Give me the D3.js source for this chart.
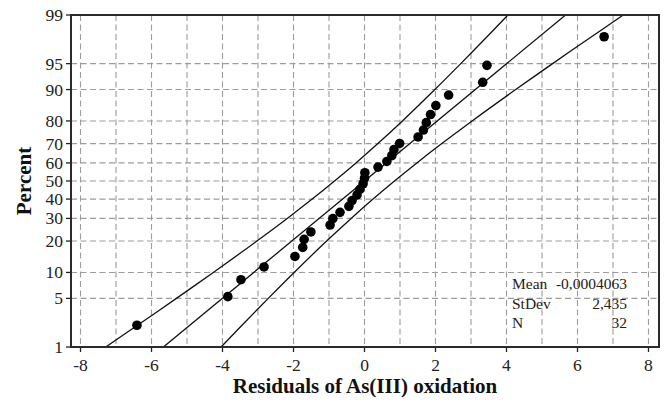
<!DOCTYPE html>
<html><head><meta charset="utf-8">
<script src="https://cdn.jsdelivr.net/npm/d3@7"></script>
<style>body{margin:0;background:#fff}svg{display:block}</style>
</head><body>
<svg id="chart" width="664" height="403"></svg>
<script>
// ---- data ----
const residuals = [-6.41,-3.85,-3.48,-2.83,-1.96,-1.74,-1.70,-1.51,-0.97,-0.89,-0.69,-0.44,-0.35,-0.21,-0.13,-0.04,
  0.00,0.01,0.38,0.63,0.77,0.83,0.99,1.51,1.66,1.74,1.86,2.01,2.37,3.33,3.45,6.75];
const percents = [2.16,5.25,8.33,11.42,14.51,17.59,20.68,23.77,26.85,29.94,33.02,36.11,39.20,42.28,45.37,48.46,
  51.54,54.63,57.72,60.80,63.89,66.98,70.06,73.15,76.23,79.32,82.41,85.49,88.58,91.67,94.75,97.84];
const fitPercent = [1, 99];
const fitX = [-5.665, 5.664];
const bandPercent = [1,2,5,10,20,30,40,50,60,70,80,90,95,98,99];
const bandLower = [-7.289,-6.488,-5.299,-4.259,-3.031,-2.177,-1.474,-0.844,-0.240,0.377,1.068,1.982,2.711,3.513,4.040];
const bandUpper = [-4.040,-3.513,-2.711,-1.982,-1.068,-0.377,0.240,0.844,1.474,2.177,3.031,4.259,5.299,6.488,7.289];
const yTickLabels = [1,5,10,20,30,40,50,60,70,80,90,95,99];
const yGridPercents = [5,10,20,30,40,50,60,70,80,90,95];
const xTickValues = [-8,-6,-4,-2,0,2,4,6,8];
const xGridValues = [-8,-7,-6,-5,-4,-3,-2,-1,0,1,2,3,4,5,6,7,8];
const statNames = ["Mean","StDev","N"];
const statValues = ["-0,0004063","2,435","32"];
const xTitle = "Residuals of As(III) oxidation";
const yTitle = "Percent";

// inverse standard normal CDF (Acklam)
function probit(p){
  const a=[-3.969683028665376e+01,2.209460984245205e+02,-2.759285104469687e+02,1.383577518672690e+02,-3.066479806614716e+01,2.506628277459239e+00];
  const b=[-5.447609879822406e+01,1.615858368580409e+02,-1.556989798598866e+02,6.680131188771972e+01,-1.328068155288572e+01];
  const c=[-7.784894002430293e-03,-3.223964580411365e-01,-2.400758277161838e+00,-2.549732539343734e+00,4.374664141464968e+00,2.938163982698783e+00];
  const d=[7.784695709041462e-03,3.224671290700398e-01,2.445134137142996e+00,3.754408661907416e+00];
  const pl=0.02425;let q,r;
  if(p<pl){q=Math.sqrt(-2*Math.log(p));return (((((c[0]*q+c[1])*q+c[2])*q+c[3])*q+c[4])*q+c[5])/((((d[0]*q+d[1])*q+d[2])*q+d[3])*q+1);}
  if(p>1-pl){q=Math.sqrt(-2*Math.log(1-p));return -(((((c[0]*q+c[1])*q+c[2])*q+c[3])*q+c[4])*q+c[5])/((((d[0]*q+d[1])*q+d[2])*q+d[3])*q+1);}
  q=p-0.5;r=q*q;
  return (((((a[0]*r+a[1])*r+a[2])*r+a[3])*r+a[4])*r+a[5])*q/(((((b[0]*r+b[1])*r+b[2])*r+b[3])*r+b[4])*r+1);
}

// ---- layout ----
const L=71,R=659,T=15,B=347;
const svg=d3.select("#chart");
const x=d3.scaleLinear().domain([-8.268,8.296]).range([L,R]);
const zy=d3.scaleLinear().domain([probit(0.01),probit(0.99)]).range([B,T]);
const y=pc=>zy(probit(pc/100));
const serif="Liberation Serif, Times New Roman, Times, serif";

// grid
const grid=svg.append("g").attr("stroke","#9c9c9c").attr("stroke-width",1.1).attr("stroke-dasharray","6,3.5");
grid.selectAll("line.v").data(xGridValues).join("line").attr("class","v")
  .attr("x1",d=>x(d)).attr("x2",d=>x(d)).attr("y1",T).attr("y2",B);
grid.selectAll("line.h").data(yGridPercents).join("line").attr("class","h")
  .attr("x1",L).attr("x2",R).attr("y1",d=>y(d)).attr("y2",d=>y(d));

// ticks + labels
const axY=svg.append("g");
axY.selectAll("line").data(yTickLabels).join("line")
  .attr("x1",L-5).attr("x2",L).attr("y1",d=>y(d)).attr("y2",d=>y(d)).attr("stroke","#222").attr("stroke-width",1.3);
axY.selectAll("text").data(yTickLabels).join("text")
  .attr("x",L-8).attr("y",d=>y(d)+6).attr("text-anchor","end")
  .style("font-family",serif).attr("font-size",17.5).attr("fill","#222").text(d=>d);
const axX=svg.append("g");
axX.selectAll("line").data(xTickValues).join("line")
  .attr("x1",d=>x(d)).attr("x2",d=>x(d)).attr("y1",B).attr("y2",B+5).attr("stroke","#222").attr("stroke-width",1.3);
axX.selectAll("text").data(xTickValues).join("text")
  .attr("x",d=>x(d)).attr("y",B+24).attr("text-anchor","middle")
  .style("font-family",serif).attr("font-size",17.5).attr("fill","#222").text(d=>d);

// band and fit lines
const lineGen=d3.line().x(d=>x(d[0])).y(d=>y(d[1])).curve(d3.curveCatmullRom);
const g=svg.append("g").attr("fill","none").attr("stroke","#111").attr("stroke-width",1.3);
g.append("path").attr("d",lineGen(bandLower.map((v,i)=>[v,bandPercent[i]])));
g.append("path").attr("d",lineGen(bandUpper.map((v,i)=>[v,bandPercent[i]])));
g.append("path").attr("d",d3.line().x(d=>x(d[0])).y(d=>y(d[1]))(fitX.map((v,i)=>[v,fitPercent[i]])));

// points
svg.append("g").selectAll("circle").data(residuals).join("circle")
  .attr("cx",d=>x(d)).attr("cy",(d,i)=>y(percents[i])).attr("r",4.8).attr("fill","#000");

// frame
svg.append("rect").attr("x",L).attr("y",T).attr("width",R-L).attr("height",B-T)
  .attr("fill","none").attr("stroke","#2a2a2a").attr("stroke-width",2);

// stats box
const st=svg.append("g").style("font-family",serif).attr("font-size",15.5).attr("fill","#222");
st.selectAll("text.n").data(statNames).join("text").attr("class","n")
  .attr("x",512).attr("y",(d,i)=>289+i*19.5).text(d=>d);
st.selectAll("text.v").data(statValues).join("text").attr("class","v")
  .attr("x",627).attr("y",(d,i)=>289+i*19.5).attr("text-anchor","end").text(d=>d);

// titles
svg.append("text").attr("x",(L+R)/2).attr("y",393).attr("text-anchor","middle")
  .style("font-family",serif).attr("font-weight","bold").attr("font-size",21).attr("fill","#111").text(xTitle);
svg.append("text").attr("transform",`translate(31,${(T+B)/2}) rotate(-90)`).attr("text-anchor","middle")
  .style("font-family",serif).attr("font-weight","bold").attr("font-size",21).attr("fill","#111").text(yTitle);
</script>
</body></html>
